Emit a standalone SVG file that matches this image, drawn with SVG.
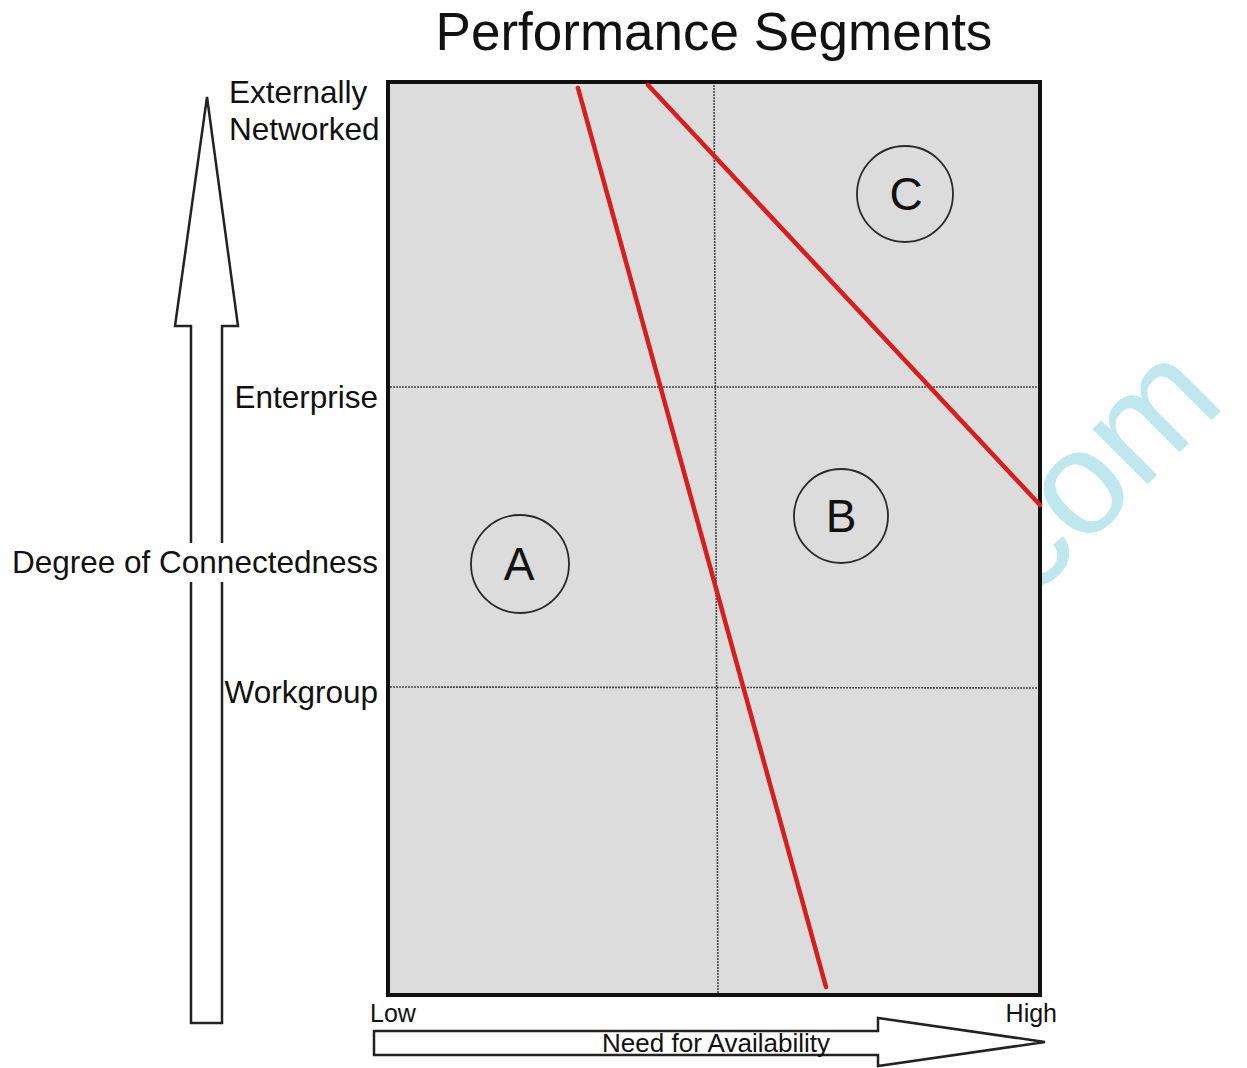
<svg xmlns="http://www.w3.org/2000/svg" width="1247" height="1068" viewBox="0 0 1247 1068">
<style>
text{font-family:"Liberation Sans",Arial,sans-serif;fill:#111}
.lbl{font-size:31.5px}
.ax{font-size:25px}
.grid{stroke:#444;stroke-width:1.6;stroke-dasharray:2 1;fill:none}
.red{stroke:#d91c1c;stroke-width:4.5;stroke-linecap:round;fill:none}
.circ{fill:#dcdcdc;stroke:#2a2a2a;stroke-width:1.8}
.letter{font-size:46px;text-anchor:middle}
.arrow{fill:#fff;stroke:#222;stroke-width:2.5;stroke-linejoin:miter}
</style>
<rect width="1247" height="1068" fill="#fff"/>
<text x="1030" y="602" transform="rotate(-45 1030 602)" style="font-size:148px;fill:#bfe7ee">com</text>
<g id="title"><text x="714" y="50" style="font-size:53px" text-anchor="middle">Performance Segments</text></g>
<g id="panel">
<rect x="388" y="82" width="652" height="913" fill="#dcdcdc" stroke="#111" stroke-width="4"/>
</g>
<g id="connectors">
<line class="grid" x1="390" y1="387" x2="1037" y2="387"/>
<line class="grid" x1="390" y1="687" x2="1037" y2="688"/>
<line class="grid" x1="714" y1="85" x2="718" y2="993"/>
<line class="red" x1="578" y1="88" x2="826" y2="987"/>
<line class="red" x1="648" y1="85" x2="1040" y2="505"/>
</g>
<g id="node-A"><circle class="circ" cx="520" cy="564" r="49"/><text class="letter" x="519" y="580">A</text></g>
<g id="node-B"><circle class="circ" cx="841" cy="516" r="47"/><text class="letter" x="841" y="532">B</text></g>
<g id="node-C"><circle class="circ" cx="905" cy="194" r="48"/><text class="letter" x="906" y="210">C</text></g>
<g id="y-axis">
<polygon class="arrow" points="207,97 238,326 222,326 222,1023 191,1023 191,326 175,326"/>
<rect x="8" y="543" width="372" height="39" fill="#fff"/>
<text class="lbl" x="378" y="573" text-anchor="end">Degree of Connectedness</text>
<text class="lbl" x="229" y="103">Externally</text>
<text class="lbl" x="229" y="140">Networked</text>
<text class="lbl" x="378" y="408" text-anchor="end">Enterprise</text>
<text class="lbl" x="378" y="703" text-anchor="end">Workgroup</text>
</g>
<g id="x-axis">
<polygon class="arrow" points="374,1031 878,1031 878,1018 1045,1042 878,1066 878,1055 374,1055"/>
<text class="ax" x="370" y="1022">Low</text>
<text class="ax" x="1057" y="1022" text-anchor="end">High</text>
<text style="font-size:26px" x="716" y="1052" text-anchor="middle">Need for Availability</text>
</g>
</svg>
